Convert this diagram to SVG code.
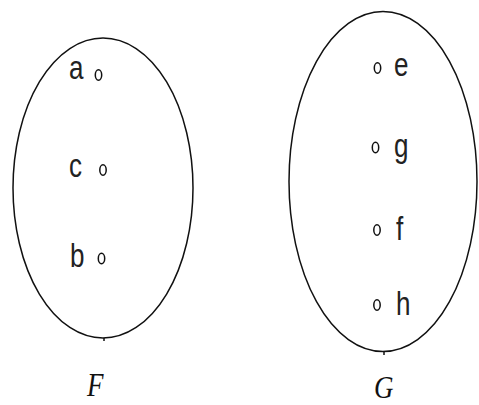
<svg xmlns="http://www.w3.org/2000/svg" width="479" height="405" viewBox="0 0 479 405">
<style>
.set{fill:none;stroke:#111;stroke-width:1.5}
.pt{fill:none;stroke:#111;stroke-width:1.5}
.lbl{font-family:"Liberation Sans",Arial,sans-serif;font-size:26px;fill:#222}
.name{font-family:"Liberation Serif","Times New Roman",serif;font-style:italic;font-size:27px;fill:#111}
</style>
<rect width="479" height="405" fill="#fff"/>
<g id="setF">
<ellipse class="set" cx="103" cy="188" rx="90" ry="150"/>
<line class="set" x1="104" y1="338" x2="104" y2="341"/>
<text class="name" transform="translate(87,396) scale(1,1.22)">F</text>
</g>
<g id="setG">
<ellipse class="set" cx="383" cy="181.5" rx="94" ry="170"/>
<line class="set" x1="384" y1="351" x2="384" y2="355"/>
<text class="name" transform="translate(374,398) scale(1,1.18)">G</text>
</g>
<g id="node-a"><text class="lbl" transform="translate(69,79) scale(1,1.25)">a</text><ellipse class="pt" cx="98.5" cy="75" rx="3.2" ry="5.2"/></g>
<g id="node-c"><text class="lbl" transform="translate(69,177) scale(1,1.25)">c</text><ellipse class="pt" cx="103" cy="170" rx="3.2" ry="5.2"/></g>
<g id="node-b"><text class="lbl" transform="translate(70,267) scale(1,1.25)">b</text><ellipse class="pt" cx="101.5" cy="258.5" rx="3.2" ry="5.2"/></g>
<g id="node-e"><ellipse class="pt" cx="377.5" cy="68" rx="3.2" ry="5.2"/><text class="lbl" transform="translate(394,76) scale(1,1.25)">e</text></g>
<g id="node-g"><ellipse class="pt" cx="375.5" cy="147.5" rx="3.2" ry="5.2"/><text class="lbl" transform="translate(394,157) scale(1,1.25)">g</text></g>
<g id="node-f"><ellipse class="pt" cx="377" cy="230" rx="3.2" ry="5.2"/><text class="lbl" transform="translate(396,240) scale(1,1.25)">f</text></g>
<g id="node-h"><ellipse class="pt" cx="377" cy="305" rx="3.2" ry="5.2"/><text class="lbl" transform="translate(396,315) scale(1,1.25)">h</text></g>
<g id="connectors"></g>
</svg>
